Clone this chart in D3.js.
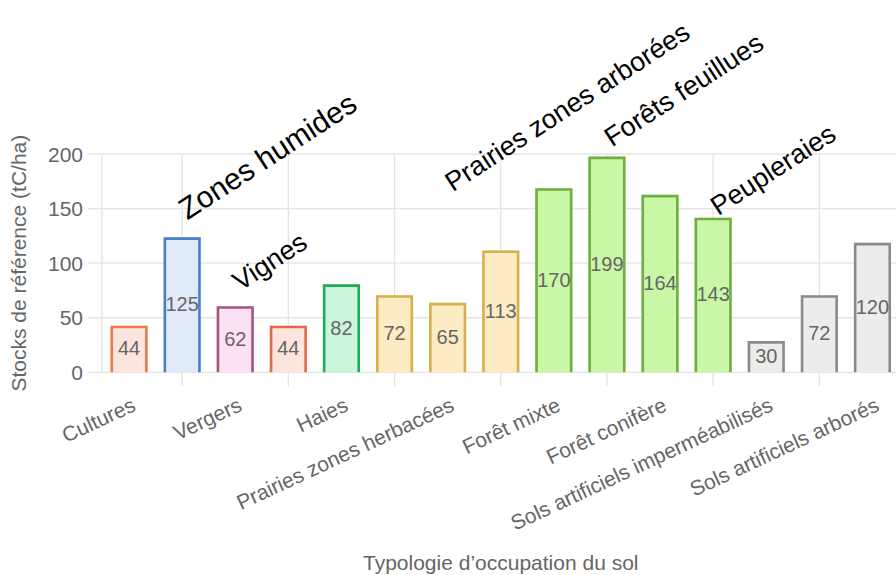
<!DOCTYPE html>
<html><head><meta charset="utf-8">
<script src="https://cdn.jsdelivr.net/npm/d3@7"></script>
<style>
html,body{margin:0;padding:0;background:#fff;}
svg{display:block;font-family:Arial,"Liberation Sans",sans-serif;}
</style></head>
<body><svg id="chart" width="896" height="575"></svg>
<script>
const categories = ["Cultures","Zones humides","Vergers","Vignes","Haies","Prairies zones arbustives","Prairies zones herbacées","Prairies zones arborées","Forêt mixte","Forêts feuillues","Forêt conifère","Peupleraies","Sols artificiels imperméabilisés","Sols artificiels enherbés","Sols artificiels arborés"];
const values = [44,125,62,44,82,72,65,113,170,199,164,143,30,72,120];
const fillColors = ["#fde5de","#e1eaf9","#fce1f6","#fde4dc","#c9f6d9","#fcebc3","#fcebc3","#fcebc3","#c9f7a6","#c9f7a6","#c9f7a6","#c9f7a6","#ececec","#ececec","#ececec"];
const strokeColors = ["#e97c4c","#4a7fc6","#a2557f","#dc6a4c","#22a95c","#d6b04a","#d6b04a","#d6b04a","#6fae40","#6fae40","#6fae40","#6fae40","#8a8a8a","#8a8a8a","#8a8a8a"];
const yTicks = [0,50,100,150,200];
const yTitle = "Stocks de référence (tC/ha)";
const xTitle = "Typologie d’occupation du sol";
const annotTexts = ["Zones humides","Vignes","Prairies zones arborées","Forêts feuillues","Peupleraies"];
const annotCats = ["Zones humides","Vergers","Prairies zones herbacées","Forêts feuillues","Peupleraies"];
const annotLevels = [139,74,165,206,143];

const svg = d3.select("#chart");
svg.append("rect").attr("width",896).attr("height",575).attr("fill","#fff");

const x = d3.scaleBand().domain(categories).range([102.5,899]).paddingInner(0.3).paddingOuter(0.15);
const y = d3.scaleLinear().domain([0,200]).range([372.3,154]);
const cx = c => x(c) + x.bandwidth()/2;
const grid = "#e4e4e4";

// horizontal gridlines
const g = svg.append("g");
g.selectAll("line.h").data(yTicks).join("line")
  .attr("x1",88).attr("x2",899)
  .attr("y1",d=>y(d)).attr("y2",d=>y(d))
  .attr("stroke",grid).attr("stroke-width",1.3);
// left axis line
g.append("line").attr("x1",102).attr("x2",102).attr("y1",y(200)).attr("y2",y(0)).attr("stroke",grid).attr("stroke-width",1.3);
// vertical gridlines at odd categories
const oddCats = categories.filter((c,i)=>i%2===1);
g.selectAll("line.v").data(oddCats).join("line")
  .attr("x1",d=>cx(d)).attr("x2",d=>cx(d))
  .attr("y1",y(200)).attr("y2",y(0)+14)
  .attr("stroke",grid).attr("stroke-width",1.3);

// y tick labels
svg.selectAll("text.yt").data(yTicks).join("text")
  .attr("x",83).attr("y",d=>y(d)).attr("dy","0.36em")
  .attr("text-anchor","end").attr("font-size",21).attr("fill","#666")
  .text(d=>d);

// bars
const sw = 2.6;
const bars = svg.append("g");
categories.forEach((c,i)=>{
  const x0 = x(c), w = x.bandwidth(), top = y(values[i]) + 1.5, bot = y(0);
  bars.append("rect").attr("x",x0).attr("y",top).attr("width",w).attr("height",bot-top)
    .attr("fill",fillColors[i]);
  const h = sw/2;
  bars.append("path")
    .attr("d",`M${x0+h},${bot}V${top+h}H${x0+w-h}V${bot}`)
    .attr("fill","none").attr("stroke",strokeColors[i]).attr("stroke-width",sw);
});

// value labels
svg.selectAll("text.val").data(categories).join("text")
  .attr("x",d=>cx(d)).attr("y",(d,i)=>(y(values[i])+y(0))/2).attr("dy","0.36em")
  .attr("text-anchor","middle").attr("font-size",20).attr("fill","#666")
  .text((d,i)=>values[i]);

// x tick labels (every other)
const shown = categories.filter((c,i)=>i%2===0);
svg.selectAll("text.xt").data(shown).join("text")
  .attr("transform",d=>`translate(${cx(d)+8},410) rotate(-25)`)
  .attr("text-anchor","end").attr("font-size",21).attr("fill","#666")
  .text(d=>d);

// axis titles
svg.append("text").attr("transform",`translate(26,${(y(0)+y(200))/2}) rotate(-90)`)
  .attr("text-anchor","middle").attr("font-size",21).attr("fill","#666").text(yTitle);
svg.append("text").attr("x",(102.5+899)/2).attr("y",570)
  .attr("text-anchor","middle").attr("font-size",21).attr("fill","#666").text(xTitle);

// annotations
const annotSize = t => t === "Zones humides" ? 30 : 27;
annotTexts.forEach((t,i)=>{
  svg.append("text")
    .attr("transform",`translate(${cx(annotCats[i])+5},${y(annotLevels[i])}) rotate(-33)`)
    .attr("font-size",annotSize(t)).attr("fill","#000").text(t);
});
</script></body></html>
